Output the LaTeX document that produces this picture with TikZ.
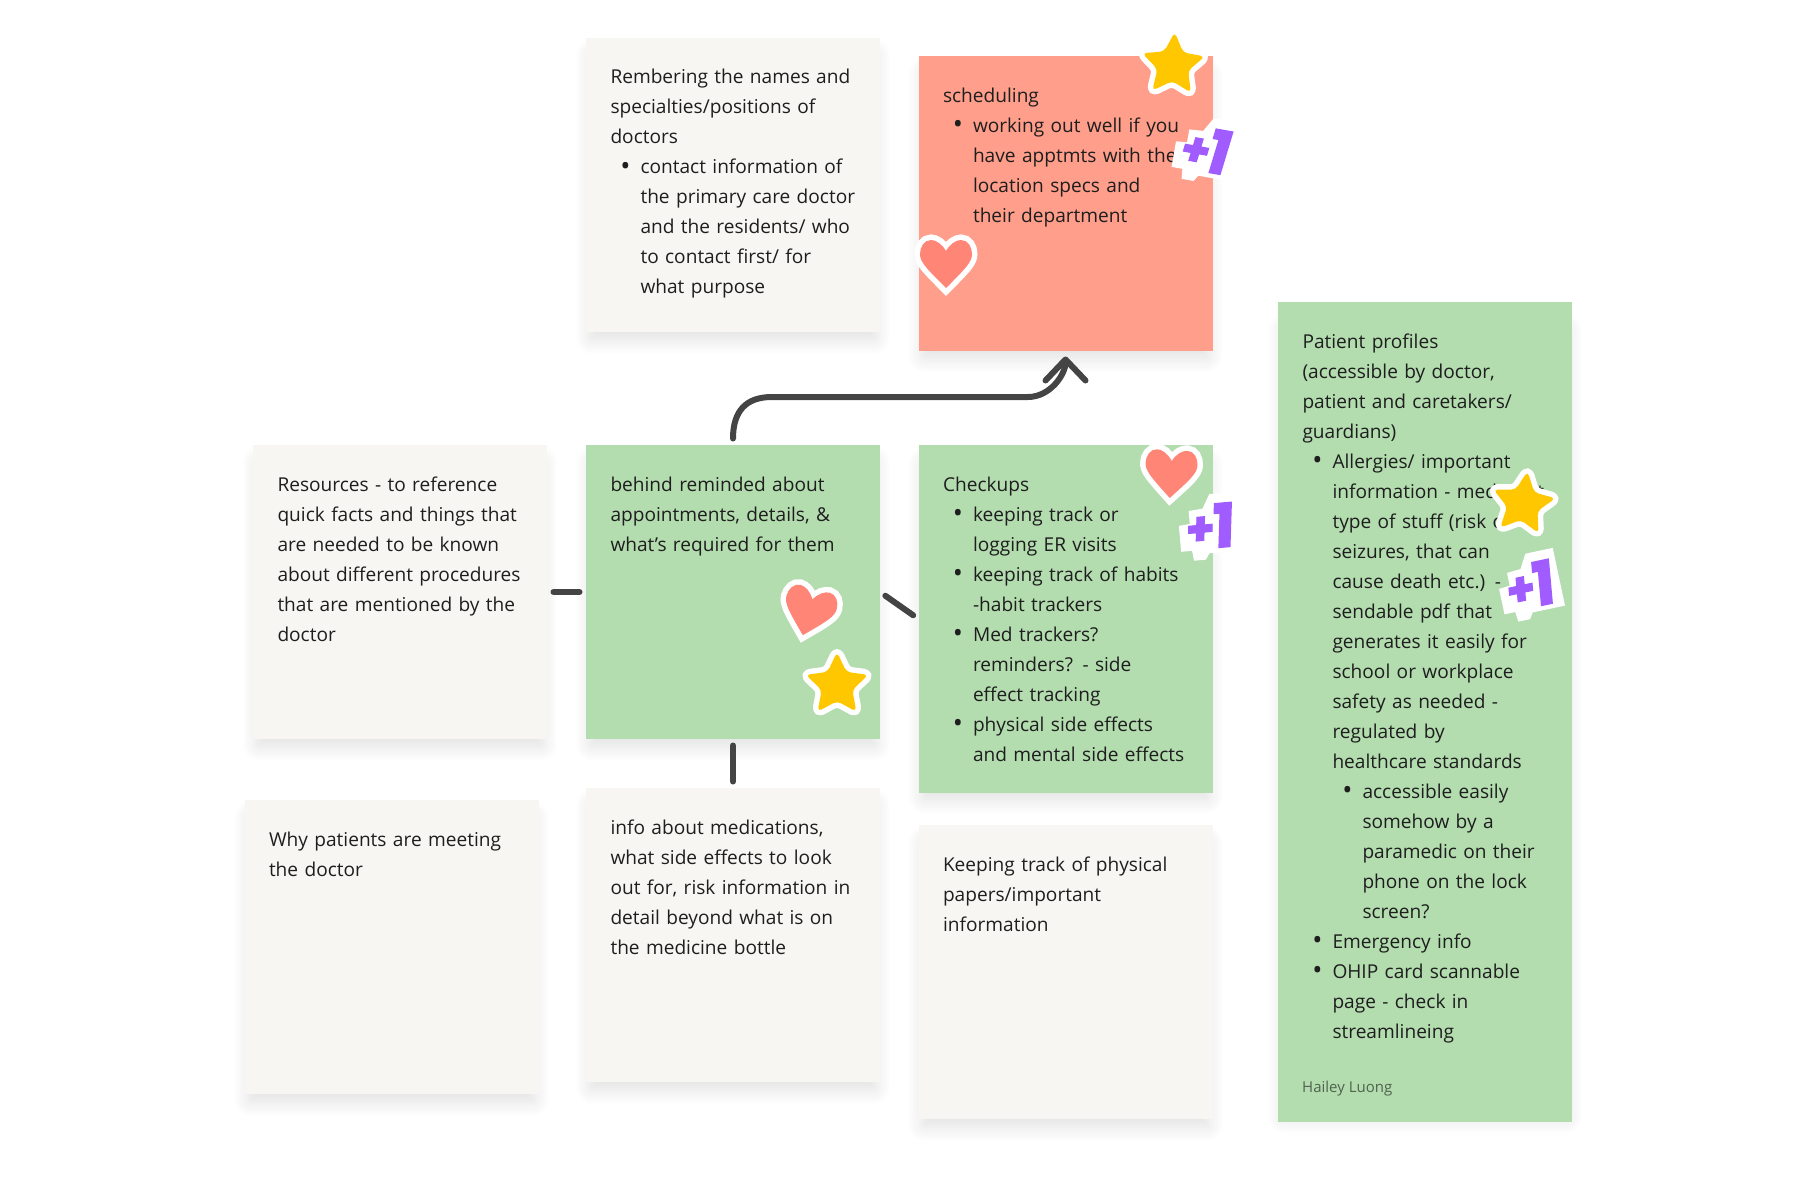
\documentclass[tikz,border=0pt]{standalone}
\usepackage{fontspec}
\setmainfont{Open Sans}
\newfontfamily\stickerfont{Poppins}[FakeBold=2.5,FakeSlant=0.12]
\usetikzlibrary{shapes,positioning,calc,arrows.meta,shadows.blur}
\definecolor{paper}{HTML}{F7F6F2}
\definecolor{leaf}{HTML}{B3DCAF}
\definecolor{salmon}{HTML}{FF9E8A}
\definecolor{coral}{HTML}{FF8577}
\definecolor{gold}{HTML}{FFC700}
\definecolor{grape}{HTML}{A05CFF}
\definecolor{ink}{HTML}{1E1E1E}
\definecolor{linkgray}{HTML}{444444}
\newcommand{\ind}{\hspace*{30pt}}
\newcommand{\bul}{\ind\llap{\raisebox{-1.5pt}{\fontsize{27}{30}\selectfont\textbullet}\hspace{10pt}}}
\tikzset{
  note/.style={rectangle,anchor=north west,align=left,text width=245pt,inner xsep=24.5pt,inner ysep=25pt,
    outer sep=0pt,text height=21pt,text depth=#1,text=ink,
    font=\fontsize{19.1}{30}\selectfont,
    execute at begin node={\rightskip=-60pt plus 1fil\hyphenpenalty=10000},
    blur shadow={shadow xshift=0pt,shadow yshift=-12pt,shadow scale=0.96,shadow blur radius=18pt,shadow blur steps=20,shadow opacity=14}},
  note/.default=223pt,
  link/.style={draw=linkgray,line width=6pt,line cap=round,shorten <=6.5pt,shorten >=6.5pt},
  starsticker/.style={star,star points=5,star point ratio=2.05,minimum size=66pt,inner sep=0pt,
    fill=gold,rounded corners=4.5pt,preaction={draw=white,line width=11pt,line join=round}},
  heartsticker/.pic={
    \path[fill=coral,preaction={draw=white,line width=11pt,line join=miter}]
      (0,-13) .. controls (-4,-20) and (-10,-24) .. (-15,-24) .. controls (-22,-24) and (-26,-17) .. (-26,-10)
      .. controls (-26,-2) and (-20,4) .. (0,24) .. controls (20,4) and (26,-2) .. (26,-10)
      .. controls (26,-17) and (22,-24) .. (15,-24) .. controls (10,-24) and (4,-20) .. (0,-13) -- cycle;
  },
  plussticker/.pic={
    \fill[white] (0,-32) -- (28,-32) -- (28,27) -- (-5,27) -- (-9,33) -- (-21,33) -- (-22,23) -- (-33,23)
      -- (-33,-3) -- (-22,-4) -- (-22,-17) -- (-8,-18) -- cycle;
    \node[transform shape,inner sep=0pt,text=grape,font=\stickerfont\bfseries] (-pluslabel) at (-4,0)
      {\raisebox{4pt}{\fontsize{46}{46}\selectfont +}\kern-3pt\fontsize{60}{60}\selectfont 1};
  },
}
\begin{document}
\begin{tikzpicture}[x=1pt,y=-1pt]
\useasboundingbox (0,0) rectangle (1798,1188);
\node[note,fill=leaf] (behind) at (586,445) {behind reminded about\\appointments, details, \&\\what’s required for them};
\node[note,fill=paper,above=113pt of behind.north west,anchor=south west] (doctors) {Rembering the names and\\specialties/positions of\\doctors\\
\bul contact information of\\\ind the primary care doctor\\\ind and the residents/ who\\\ind to contact first/ for\\\ind what purpose};
\node[note,fill=leaf,text depth=277pt,right=38.5pt of behind.north east,anchor=north west] (checkups) {Checkups\\
\bul keeping track or\\\ind logging ER visits\\\bul keeping track of habits\\\ind -habit trackers\\
\bul Med trackers?\\\ind reminders? - side\\\ind effect tracking\\\bul physical side effects\\\ind and mental side effects};
\node[note,fill=salmon,above=94.5pt of checkups.north west,anchor=south west] (scheduling) {scheduling\\
\bul working out well if you\\\ind have apptmts with their\\\ind location specs and\\\ind their department};
\node[note,fill=paper,left=39pt of behind.north west,anchor=north east] (resources) {Resources - to reference\\quick facts and things that\\are needed to be known\\about different procedures\\that are mentioned by the\\doctor};
\node[note,fill=paper,below=49pt of behind.south west,anchor=north west] (medinfo) {info about medications,\\what side effects to look\\out for, risk information in\\detail beyond what is on\\the medicine bottle};
\node[note,fill=paper] (whypatients) at (244.5,800) {Why patients are meeting\\the doctor};
\node[note,fill=paper,below=32pt of checkups.south west,anchor=north west] (papers) {Keeping track of physical\\papers/important\\information};
\node[note,fill=leaf,text depth=749pt] (profiles) at (1278,302) {Patient profiles\\(accessible by doctor,\\patient and caretakers/\\guardians)\\
\bul Allergies/ important\\\ind information - med alert\\\ind type of stuff (risk of\\\ind seizures, that can\\\ind cause death etc.) -\\\ind sendable pdf that\\\ind generates it easily for\\\ind school or workplace\\\ind safety as needed -\\\ind regulated by\\\ind healthcare standards\\
\ind\bul accessible easily\\\ind\ind somehow by a\\\ind\ind paramedic on their\\\ind\ind phone on the lock\\\ind\ind screen?\\
\bul Emergency info\\\bul OHIP card scannable\\\ind page - check in\\\ind streamlineing};
\node[anchor=west,inner sep=0pt,text=black!55!leaf,font=\fontsize{15}{18}\selectfont] (author) at (1302,1089) {Hailey Luong};
% connectors
\coordinate (bendA) at (772,397);
\coordinate (bendB) at (1028,397);
\draw[link,shorten >=6pt,-{Straight Barb[length=21pt,width=40pt,round]}] (behind.north)
  .. controls +(0,-34) and +(-26,0) .. (bendA) -- (bendB) .. controls +(22,0) and +(0,24) .. (scheduling.south);
\draw[link] (resources.east) -- (behind.west);
\draw[link] (behind.east) -- (checkups.west);
\draw[link] (behind.south) -- (medinfo.north);
% stickers
\node[starsticker,rotate=-3] (starA) at (1173,65) {};
\node[starsticker] (starB) at (837,685) {};
\node[starsticker,rotate=-8] (starC) at (1523,504) {};
\pic at (946,264) {heartsticker};
\pic[rotate=-15] at (809,612) {heartsticker};
\pic[rotate=-3] at (1171,474) {heartsticker};
\pic[rotate=-10] (plusA) at (1208,150) {plussticker};
\pic[rotate=5] (plusB) at (1212,526) {plussticker};
\pic[rotate=12] (plusC) at (1532,585) {plussticker};
\end{tikzpicture}
\end{document}
